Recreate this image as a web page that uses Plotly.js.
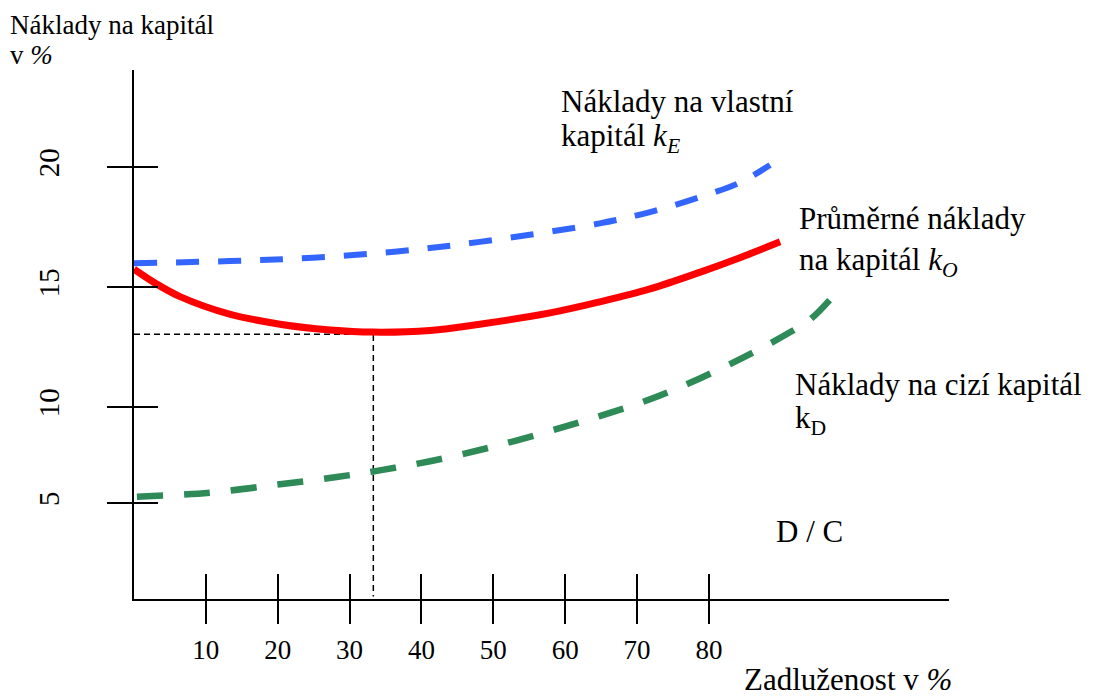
<!DOCTYPE html>
<html>
<head>
<meta charset="utf-8">
<script src="https://cdn.plot.ly/plotly-3.0.1.min.js"></script>
<style>html,body{margin:0;padding:0;background:#fff;}#chart{width:1097px;height:698px;}</style>
</head>
<body>
<div id="chart"></div>
<script>
// Debt ratio (Zadluženost v %) for each curve
const equityX = [0, 13.3, 24.9, 36.6, 48.1, 64.8, 71.8, 78.8, 84.3, 88.5];
const equityY = [15.99, 16.08, 16.22, 16.48, 16.88, 17.65, 18.12, 18.75, 19.35, 20.08];

const waccX = [0, 3.0, 6.4, 13.3, 20.3, 27.3, 33.2, 41.2, 48.1, 57.9, 64.8, 71.8, 78.8, 84.3, 89.9];
const waccY = [15.74, 15.15, 14.60, 13.87, 13.45, 13.21, 13.12, 13.19, 13.45, 13.92, 14.38, 14.92, 15.62, 16.22, 16.88];

const debtX = [0.4, 10.6, 20.3, 28.2, 34.6, 41.2, 49.1, 57.9, 64.8, 71.8, 78.8, 85.7, 90.9, 94.1, 96.8];
const debtY = [6.26, 6.43, 6.78, 7.08, 7.38, 7.74, 8.28, 9.00, 9.62, 10.32, 11.20, 12.20, 13.05, 13.65, 14.46];

// optimum marker lines
const optX = [0, 33.3, 33.3];
const optY = [13.03, 13.03, 2.1];

// ticks
const xTickVals = [10, 20, 30, 40, 50, 60, 70, 80];
const xTickText = ['10', '20', '30', '40', '50', '60', '70', '80'];
const yTickVals = [6.0, 10, 15, 20];
const yTickText = ['5', '10', '15', '20'];

const serif = 'Liberation Serif, Times New Roman, serif';

const traces = [
  {x: optX, y: optY, mode: 'lines', line: {color: '#000', width: 1.5, dash: '6px,4px'}, hoverinfo: 'skip'},
  {x: equityX, y: equityY, mode: 'lines', line: {color: 'rgb(51,102,255)', width: 6, dash: '23px,19px', shape: 'spline', smoothing: 1}, hoverinfo: 'skip'},
  {x: debtX, y: debtY, mode: 'lines', line: {color: 'rgb(46,139,87)', width: 6.5, dash: '26px,21px', shape: 'spline', smoothing: 1}, hoverinfo: 'skip'},
  {x: waccX, y: waccY, mode: 'lines', line: {color: '#ff0000', width: 7, shape: 'spline', smoothing: 1}, hoverinfo: 'skip'},
  {x: [null], y: [null], xaxis: 'x2', yaxis: 'y2', mode: 'lines', hoverinfo: 'skip'}
];

const xRange = [0, 113.4];
const yRange = [2.0, 24.04];

function ann(text, px, py, size) {
  return {
    text: text, xref: 'paper', yref: 'paper',
    x: (px - 134) / 815, y: (599 - py) / 529,
    xanchor: 'left', yanchor: 'middle', showarrow: false,
    font: {family: serif, size: size, color: '#000'}
  };
}

const layout = {
  width: 1097, height: 698, autosize: false,
  margin: {l: 134, r: 148, t: 70, b: 99, pad: 0},
  paper_bgcolor: '#fff', plot_bgcolor: '#fff',
  showlegend: false, hovermode: false,
  xaxis: {
    range: xRange, showgrid: false, zeroline: false,
    showline: true, linecolor: '#000', linewidth: 2,
    ticks: 'outside', ticklen: 23, tickwidth: 2, tickcolor: '#000',
    tickvals: xTickVals, ticktext: xTickText, ticklabelstandoff: 3,
    tickfont: {family: serif, size: 27, color: '#000'}
  },
  yaxis: {
    range: yRange, showgrid: false, zeroline: false,
    showline: true, linecolor: '#000', linewidth: 2,
    ticks: 'outside', ticklen: 25, tickwidth: 2, tickcolor: '#000',
    tickvals: yTickVals, ticktext: yTickText, tickangle: -90, ticklabelstandoff: 36,
    tickfont: {family: serif, size: 29, color: '#000'}
  },
  xaxis2: {
    range: xRange, overlaying: 'x', anchor: 'y2', side: 'bottom',
    showgrid: false, zeroline: false, showline: false,
    ticks: 'inside', ticklen: 25, tickwidth: 2, tickcolor: '#000',
    tickvals: xTickVals, showticklabels: false
  },
  yaxis2: {
    range: yRange, overlaying: 'y', anchor: 'x2', side: 'left',
    showgrid: false, zeroline: false, showline: false,
    ticks: 'inside', ticklen: 24, tickwidth: 2, tickcolor: '#000',
    tickvals: yTickVals, showticklabels: false
  },
  annotations: [
    ann('Náklady na kapitál', 8, 25, 27),
    ann('v <i>%</i>', 8, 55, 27),
    ann('Náklady na vlastní', 559, 101, 31),
    ann('kapitál <i>k<sub>E</sub></i>', 559, 138, 31),
    ann('Průměrné náklady', 797, 218, 31),
    ann('na kapitál <i>k<sub>O</sub></i>', 797, 262, 31),
    ann('Náklady na cizí kapitál', 793, 384, 31),
    ann('k<sub>D</sub>', 793, 420, 31),
    ann('D / C', 774, 531, 31),
    ann('Zadluženost v <i>%</i>', 742, 679, 31)
  ]
};

Plotly.newPlot('chart', traces, layout, {displayModeBar: false, staticPlot: true});
</script>
</body>
</html>
